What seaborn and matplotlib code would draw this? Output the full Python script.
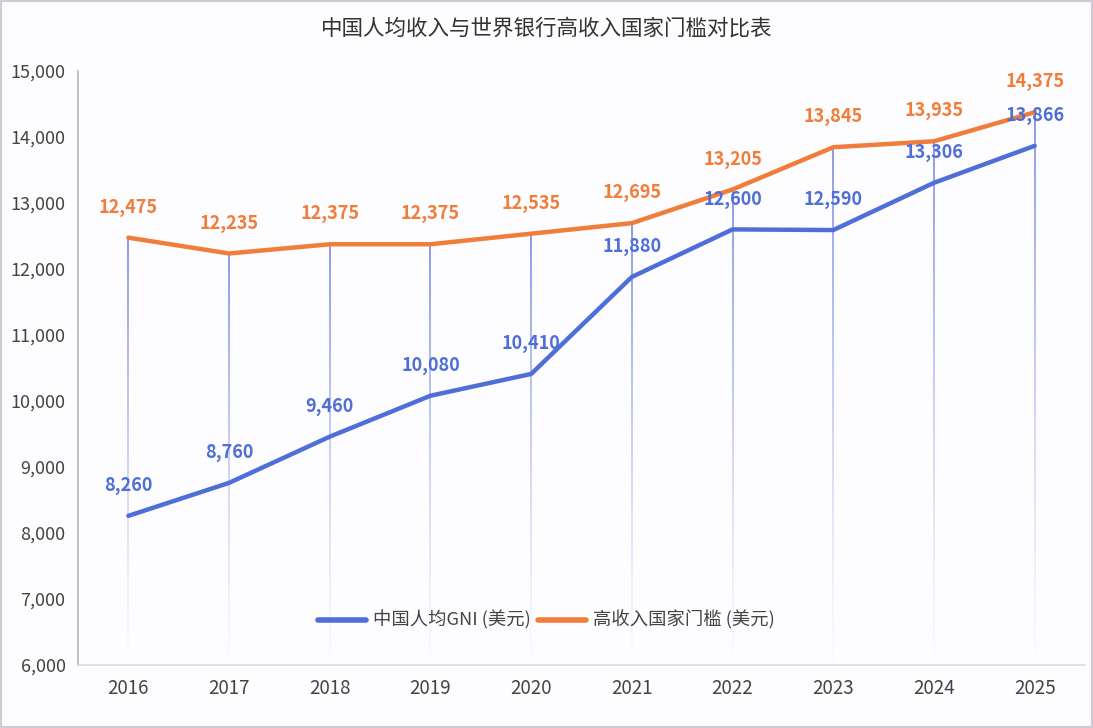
import numpy as np
import pandas as pd
import seaborn as sns
import matplotlib.pyplot as plt

years = ["2016", "2017", "2018", "2019", "2020", "2021", "2022", "2023", "2024", "2025"]
china_gni = [8260, 8760, 9460, 10080, 10410, 11880, 12600, 12590, 13306, 13866]
high_income = [12475, 12235, 12375, 12375, 12535, 12695, 13205, 13845, 13935, 14375]
y_ticks = [6000, 7000, 8000, 9000, 10000, 11000, 12000, 13000, 14000, 15000]

name_china = "中国人均GNI (美元)"
name_high = "高收入国家门槛 (美元)"
title = "中国人均收入与世界银行高收入国家门槛对比表"

BLUE = "#4f6fd8"
ORANGE = "#f17d3b"
BG = "#fdfcfe"

sns.set_theme(style="white")
plt.rcParams["font.family"] = ["Noto Sans CJK SC", "DejaVu Sans"]

df = pd.DataFrame({
    "year": years * 2,
    "idx": list(range(len(years))) * 2,
    "value": china_gni + high_income,
    "series": [name_china] * len(years) + [name_high] * len(years),
})

fig = plt.figure(figsize=(10.93, 7.28), dpi=100, facecolor=BG)
ax = fig.add_axes([0.0714, 0.0865, 0.9213, 0.816])
ax.set_facecolor(BG)

# fading vertical drop lines from the threshold value down to the axis
n_seg = 40
for i, top in enumerate(high_income):
    edges = np.linspace(top, y_ticks[0], n_seg + 1)
    for k in range(n_seg):
        a = 0.85 * (1 - k / n_seg) ** 1.2
        ax.plot([i, i], [edges[k], edges[k + 1]], color="#6f82dc", alpha=a,
                lw=1.3, solid_capstyle="butt", zorder=1)

sns.lineplot(data=df, x="idx", y="value", hue="series",
             palette={name_china: BLUE, name_high: ORANGE},
             linewidth=3.2, ax=ax, zorder=3, legend=True)

for i, v in enumerate(high_income):
    ax.annotate(f"{v:,}", (i, v), xytext=(0, 15), textcoords="offset points",
                ha="center", va="bottom", color=ORANGE, fontsize=13,
                fontweight="semibold", zorder=4)
for i, v in enumerate(china_gni):
    ax.annotate(f"{v:,}", (i, v), xytext=(0, 15), textcoords="offset points",
                ha="center", va="bottom", color=BLUE, fontsize=13,
                fontweight="semibold", zorder=4)

ax.set_xlim(-0.5, len(years) - 0.5)
ax.set_ylim(y_ticks[0], y_ticks[-1])
ax.set_xticks(range(len(years)))
ax.set_xticklabels(years)
ax.set_yticks(y_ticks)
ax.set_yticklabels([f"{t:,}" for t in y_ticks])
ax.tick_params(axis="both", colors="#444", labelcolor="#444")
ax.tick_params(axis="y", length=5, width=1, color="#aaa", pad=4, labelsize=13)
ax.tick_params(axis="x", length=0, pad=9, labelsize=13.5)
ax.set_xlabel("")
ax.set_ylabel("")

for s in ["top", "right"]:
    ax.spines[s].set_visible(False)
ax.spines["left"].set_color("#b8b4c0")
ax.spines["bottom"].set_color("#dcd8e2")
ax.spines["left"].set_linewidth(1.2)
ax.spines["bottom"].set_linewidth(1.2)

handles, labels = ax.get_legend_handles_labels()
ax.get_legend().remove()
leg = fig.legend(handles, labels, loc="center", bbox_to_anchor=(0.5, 0.148), ncol=2,
                 frameon=False, fontsize=13.2, handlelength=2.6, columnspacing=0.4,
                 handletextpad=0.4)
for h in leg.get_lines():
    h.set_linewidth(4)
for t in leg.get_texts():
    t.set_color("#444")

fig.text(0.5, 0.96, title, ha="center", va="center", fontsize=15.5, color="#333")

border = plt.Rectangle((0.001, 0.001), 0.998, 0.998, transform=fig.transFigure,
                       fill=False, edgecolor="#cfcbd6", lw=1.5)
fig.patches.append(border)

fig.savefig("out.png", dpi=100, facecolor=BG)
